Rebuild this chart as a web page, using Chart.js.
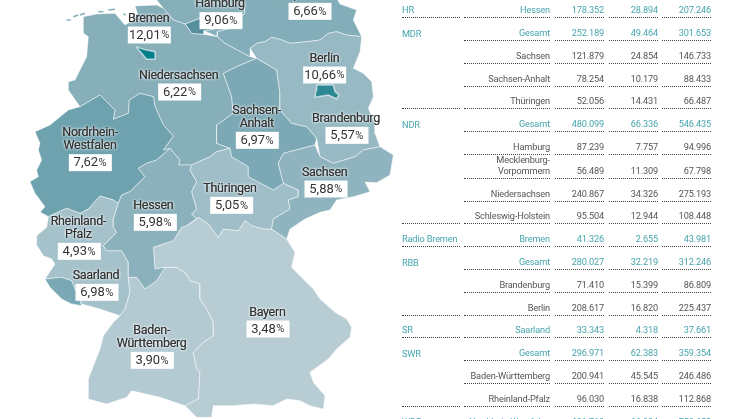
<!DOCTYPE html>
<html lang="de">
<head>
<meta charset="utf-8">
<title>Karte</title>
<script src="https://cdn.jsdelivr.net/npm/chart.js@4"></script>
<style>
    html, body { margin: 0; padding: 0; background: #fff; width: 746px; height: 419px; overflow: hidden; }
    #map { position: absolute; left: 0; top: 0; }
    #table { position: absolute; left: 0; top: 0; width: 746px; height: 419px; overflow: hidden; font-family: Roboto, sans-serif; font-size: 9.2px; letter-spacing: -0.15px; color: #555; }
    .cell { position: absolute; box-sizing: border-box; display: flex; align-items: flex-end; justify-content: flex-end; text-align: right; white-space: pre; line-height: 11px; padding-bottom: 2px; }
    .cell.first { justify-content: flex-start; text-align: left; }
    .cell.line { border-bottom: 1px dotted #444; }
    .hl { color: #46a5ad; }
</style>
</head>
<body>
<canvas id="map" width="746" height="419"></canvas>
<div id="table"></div>
<script>
// Map units are three per screen pixel, y runs downwards
const regionNames = ['Schleswig-Holstein', 'Niedersachsen', 'Mecklenburg-Vorpommern', 'Nordrhein-Westfalen', 'Rheinland-Pfalz', 'Saarland', 'Baden-Württemberg', 'Bayern', 'Hessen', 'Thüringen', 'Sachsen-Anhalt', 'Brandenburg', 'Sachsen', 'Hamburg', 'Berlin', 'Bremen'];
const regionColors = ['#86afba', '#86afba', '#83adb8', '#6fa2af', '#a5c2cb', '#7aa8b4', '#b3cad2', '#b8ccd4', '#8bb1bc', '#a0bec8', '#7ca9b5', '#96b9c3', '#8fb4bf', '#56909e', '#2e8894', '#007f8a'];

const outlineSH = [[470, 0], [490, 25], [520, 60], [555, 72], [640, 40], [640, 88], [612, 92], [652, 110], [652, 95], [690, 85], [735, 40], [730, -5], [470, -5]];
const outlineNS = [[250, 50], [290, 42], [345, 40], [375, 75], [400, 60], [412, 40], [405, 18], [470, 15], [490, 25], [520, 60], [555, 72], [575, 100], [612, 103], [652, 110], [675, 130], [750, 170], [770, 175], [710, 200], [670, 220], [695, 290], [700, 340], [650, 375], [650, 430], [690, 445], [650, 455], [630, 470], [575, 495], [535, 495], [540, 480], [510, 445], [490, 450], [520, 408], [490, 375], [465, 320], [460, 290], [420, 280], [388, 300], [385, 340], [340, 358], [345, 330], [300, 285], [240, 320], [205, 270], [205, 245], [225, 240], [250, 190], [260, 170], [265, 110], [250, 100]];
const outlineMV = [[730, -5], [735, 40], [690, 85], [652, 95], [652, 110], [675, 130], [750, 170], [750, 145], [770, 130], [795, 125], [815, 112], [840, 118], [870, 130], [920, 125], [960, 120], [985, 100], [1010, 95], [1040, 105], [1085, 110], [1060, 60], [1070, 30], [1020, 12], [1010, -5]];
const outlineNW = [[105, 395], [150, 375], [205, 330], [240, 320], [300, 285], [345, 330], [340, 358], [385, 340], [388, 300], [420, 280], [460, 290], [465, 320], [490, 375], [520, 408], [490, 450], [510, 445], [470, 480], [440, 490], [415, 505], [435, 530], [390, 575], [365, 585], [355, 610], [340, 600], [300, 588], [265, 627], [240, 640], [200, 625], [145, 650], [120, 637], [135, 620], [105, 580], [90, 545], [115, 530], [110, 510], [125, 480], [115, 450], [120, 430]];
const outlineRP = [[120, 637], [145, 650], [200, 625], [240, 640], [265, 627], [300, 588], [340, 600], [355, 610], [340, 657], [340, 682], [350, 697], [310, 737], [320, 752], [365, 752], [385, 787], [385, 832], [390, 877], [375, 927], [360, 947], [300, 927], [245, 912], [240, 902], [225, 867], [215, 842], [185, 832], [135, 837], [165, 792], [155, 777], [130, 767], [108, 732], [110, 707], [140, 682], [145, 652]];
const outlineSL = [[135, 837], [185, 832], [215, 842], [225, 867], [240, 902], [245, 917], [215, 912], [185, 897], [150, 862]];
const outlineBW = [[385, 832], [410, 832], [435, 867], [470, 842], [495, 802], [530, 802], [560, 822], [570, 842], [600, 852], [600, 897], [620, 927], [640, 967], [640, 1007], [610, 1027], [580, 1057], [590, 1107], [600, 1117], [595, 1197], [555, 1217], [480, 1192], [415, 1177], [395, 1172], [380, 1192], [320, 1212], [265, 1197], [265, 1137], [300, 1047], [310, 1007], [340, 967], [360, 947], [375, 927], [390, 877]];
const outlineBY = [[495, 802], [465, 807], [460, 742], [520, 722], [545, 682], [595, 652], [625, 672], [655, 712], [670, 687], [715, 692], [735, 662], [755, 677], [790, 687], [815, 687], [860, 717], [885, 757], [875, 802], [900, 827], [940, 867], [960, 897], [1005, 937], [1040, 957], [1055, 982], [1050, 1012], [1010, 1047], [985, 1077], [930, 1117], [940, 1147], [975, 1187], [970, 1227], [930, 1217], [900, 1202], [860, 1197], [820, 1217], [760, 1212], [700, 1217], [640, 1217], [635, 1252], [590, 1252], [555, 1217], [595, 1197], [600, 1117], [590, 1107], [580, 1057], [610, 1027], [640, 1007], [640, 967], [620, 927], [600, 897], [600, 852], [570, 842], [560, 822], [530, 802]];
const outlineHE = [[510, 445], [540, 480], [535, 495], [575, 495], [570, 510], [590, 545], [575, 575], [590, 627], [575, 642], [590, 657], [560, 677], [545, 682], [520, 722], [460, 742], [465, 807], [495, 802], [470, 842], [435, 867], [410, 832], [385, 832], [385, 787], [365, 752], [320, 752], [310, 737], [350, 697], [340, 682], [340, 657], [355, 610], [365, 585], [390, 575], [435, 530], [415, 505], [440, 490], [470, 480]];
const outlineTH = [[575, 495], [630, 470], [650, 455], [690, 445], [695, 470], [745, 500], [745, 530], [820, 570], [850, 550], [895, 570], [895, 590], [865, 600], [870, 627], [820, 657], [815, 687], [790, 687], [755, 677], [735, 662], [715, 692], [670, 687], [655, 712], [625, 672], [595, 652], [560, 677], [590, 657], [575, 642], [590, 627], [575, 575], [590, 545], [570, 510]];
const outlineST = [[770, 175], [830, 210], [840, 280], [840, 330], [875, 370], [920, 380], [950, 415], [945, 435], [850, 460], [835, 490], [850, 550], [820, 570], [745, 530], [745, 500], [695, 470], [690, 445], [650, 430], [650, 375], [700, 340], [695, 290], [670, 220], [710, 200]];
const outlineBB = [[750, 145], [770, 130], [795, 125], [815, 112], [840, 118], [870, 130], [920, 125], [960, 120], [985, 100], [1010, 95], [1040, 105], [1085, 110], [1080, 155], [1060, 205], [1090, 220], [1115, 245], [1120, 290], [1105, 325], [1125, 370], [1125, 400], [1140, 440], [1090, 450], [1065, 470], [1000, 490], [960, 470], [950, 415], [920, 380], [875, 370], [840, 330], [840, 280], [830, 210], [770, 175]];
const outlineSN = [[850, 460], [945, 435], [960, 470], [1000, 490], [1065, 470], [1090, 450], [1140, 440], [1180, 465], [1170, 525], [1130, 548], [1095, 546], [1110, 575], [1060, 590], [1010, 600], [990, 630], [960, 637], [915, 657], [870, 687], [860, 717], [815, 687], [820, 657], [870, 627], [865, 600], [895, 590], [895, 570], [850, 550], [835, 490]];
const outlineHH = [[556, 72], [640, 40], [640, 88], [612, 92], [612, 103], [575, 100]];
const outlineBE = [[950, 255], [1000, 255], [1005, 275], [1017, 285], [1010, 297], [985, 285], [945, 292], [948, 270]];
const outlineHB = [[408, 140], [430, 148], [465, 155], [465, 178], [440, 178], [425, 160]];
const regionOutlines = [outlineSH, outlineNS, outlineMV, outlineNW, outlineRP, outlineSL, outlineBW, outlineBY, outlineHE, outlineTH, outlineST, outlineBB, outlineSN, outlineHH, outlineBE, outlineHB];

const islandDashes = [[[200, 60], [212, 60]], [[220, 50], [235, 45]], [[240, 45], [255, 40]], [[295, 35], [310, 35]], [[325, 30], [345, 28]], [[370, 42], [377, 45]]];

const labelLines = [['Mecklenburg-', 'Vorpommern'], ['Hamburg'], ['Bremen'], ['Niedersachsen'], ['Berlin'], ['Sachsen-', 'Anhalt'], ['Brandenburg'], ['Nordrhein-', 'Westfalen'], ['Sachsen'], ['Thüringen'], ['Hessen'], ['Rheinland-', 'Pfalz'], ['Saarland'], ['Baden-', 'Württemberg'], ['Bayern']];
const labelShares = [6.66, 9.06, 12.01, 6.22, 10.66, 6.97, 5.57, 7.62, 5.88, 5.05, 5.98, 4.93, 6.98, 3.90, 3.48];
const labelBoxX = [930, 663, 448, 539, 974, 772, 1041, 271, 978, 695, 466, 238, 291, 457, 804];
const labelBoxY = [34, 62, 105, 276, 225, 421, 406, 488, 567, 616, 667, 754, 877, 1081, 987];
const labelNameX = [930, 660, 446, 536, 973, 770, 1038, 270, 974, 690, 460, 235, 288, 455, 802];

const tableSenders = ['HR', 'MDR', '', '', '', 'NDR', '', '', '', '', 'Radio Bremen', 'RBB', '', '', 'SR', 'SWR', '', '', 'WDR'];
const tableRegions = ['Hessen', 'Gesamt', 'Sachsen', 'Sachsen-Anhalt', 'Thüringen', 'Gesamt', 'Hamburg', 'Mecklenburg-\nVorpommern', 'Niedersachsen', 'Schleswig-Holstein', 'Bremen', 'Gesamt', 'Brandenburg', 'Berlin', 'Saarland', 'Gesamt', 'Baden-Württemberg', 'Rheinland-Pfalz', 'Nordrhein-Westfalen'];
const tableFirst = [178352, 252189, 121879, 78254, 52056, 480099, 87239, 56489, 240867, 95504, 41326, 280027, 71410, 208617, 33343, 296971, 200941, 96030, 691718];
const tableSecond = [28894, 49464, 24854, 10179, 14431, 66336, 7757, 11309, 34326, 12944, 2655, 32219, 15399, 16820, 4318, 62383, 45545, 16838, 66934];
const tableThird = [207246, 301653, 146733, 88433, 66487, 546435, 94996, 67798, 275193, 108448, 43981, 312246, 86809, 225437, 37661, 359354, 246486, 112868, 758652];
const tableHighlight = [true, true, false, false, false, true, false, false, false, false, true, true, false, false, true, true, false, false, true];
const tableGroupEnd = [true, false, false, false, true, false, false, false, false, true, true, false, false, true, true, false, false, true, true];
const tableLineY = [18, 41, 64, 87, 109, 132, 155, 179, 202, 224, 247, 270, 293, 316, 338, 361, 384, 407, 430];

const labelFont = 'Roboto, sans-serif';

const labelPlugin = {
    id: 'regionLabels',
    afterDatasetsDraw(chart) {
        const ctx = chart.ctx;
        const sx = chart.scales.x;
        const sy = chart.scales.y;
        ctx.save();
        ctx.textBaseline = 'middle';
        labelLines.forEach((lines, i) => {
            const boxX = sx.getPixelForValue(labelBoxX[i]);
            const boxY = sy.getPixelForValue(labelBoxY[i]);
            const nameX = sx.getPixelForValue(labelNameX[i]);

            ctx.textAlign = 'center';
            ctx.font = '12.5px ' + labelFont;
            ctx.letterSpacing = '-0.3px';
            ctx.fillStyle = '#333';
            ctx.shadowColor = 'rgba(255,255,255,0.9)';
            ctx.shadowBlur = 3;
            lines.forEach((line, j) => {
                const y = boxY - 16.5 - (lines.length - 1 - j) * 12.8;
                ctx.fillText(line, nameX, y);
                ctx.fillText(line, nameX, y);
            });
            ctx.shadowBlur = 0;

            ctx.fillStyle = '#fff';
            ctx.fillRect(boxX - 21.5, boxY - 8.5, 43, 17);

            // digits and the smaller percent sign are set separately
            const share = new Intl.NumberFormat('de-DE', { minimumFractionDigits: 2 }).format(labelShares[i]);
            ctx.letterSpacing = '0px';
            ctx.fillStyle = '#333';
            ctx.font = '13px ' + labelFont;
            const digitsWidth = ctx.measureText(share).width;
            ctx.textAlign = 'left';
            const startX = boxX - (digitsWidth + 9) / 2;
            ctx.fillText(share, startX, boxY + 0.5);
            ctx.font = '11px ' + labelFont;
            ctx.fillText('%', startX + digitsWidth + 0.5, boxY + 0.5);
        });
        ctx.restore();
    }
};

function toPoints(outline) {
    return outline.concat([outline[0]]).map(p => ({ x: p[0], y: p[1] }));
}

function createMap() {
    const datasets = regionNames.map((name, i) => ({
        label: name,
        data: toPoints(regionOutlines[i]),
        showLine: true,
        fill: 'shape',
        backgroundColor: regionColors[i],
        borderColor: 'rgba(255,255,255,0.6)',
        borderWidth: name === 'Bremen' || name === 'Berlin' ? 1.5 : 0.8,
        pointRadius: 0,
        tension: 0,
        order: regionNames.length - i + 10
    }));
    islandDashes.forEach((dash, i) => {
        datasets.push({
            label: 'Insel ' + (i + 1),
            data: dash.map(p => ({ x: p[0], y: p[1] })),
            showLine: true,
            fill: false,
            borderColor: '#86afba',
            borderWidth: 1.5,
            pointRadius: 0,
            order: 1
        });
    });

    new Chart(document.getElementById('map').getContext('2d'), {
        type: 'scatter',
        data: { datasets: datasets },
        options: {
            responsive: false,
            animation: false,
            events: [],
            devicePixelRatio: 1,
            layout: { padding: 0 },
            plugins: { legend: { display: false }, tooltip: { enabled: false } },
            scales: {
                x: { type: 'linear', display: false, min: 0, max: 2238 },
                y: { type: 'linear', display: false, min: 0, max: 1257, reverse: true }
            }
        },
        plugins: [labelPlugin]
    });
}

function addCell(text, left, width, bottom, rowHeight, classes) {
    const cell = document.createElement('div');
    cell.className = 'cell ' + classes;
    cell.style.left = left + 'px';
    cell.style.width = width + 'px';
    cell.style.top = (bottom - rowHeight) + 'px';
    cell.style.height = rowHeight + 'px';
    cell.textContent = text;
    document.getElementById('table').appendChild(cell);
}

function createTable() {
    const format = new Intl.NumberFormat('de-DE');
    tableRegions.forEach((region, i) => {
        const bottom = tableLineY[i];
        const color = tableHighlight[i] ? ' hl' : '';
        addCell(tableSenders[i], 402, 58, bottom, 22, 'first' + color + (tableGroupEnd[i] ? ' line' : ''));
        addCell(region, 464, 86, bottom, 22, 'line' + color);
        addCell(format.format(tableFirst[i]), 555, 49, bottom, 22, 'line' + color);
        addCell(format.format(tableSecond[i]), 609, 49, bottom, 22, 'line' + color);
        addCell(format.format(tableThird[i]), 662, 49, bottom, 22, 'line' + color);
    });
}

createMap();
createTable();
</script>
</body>
</html>
